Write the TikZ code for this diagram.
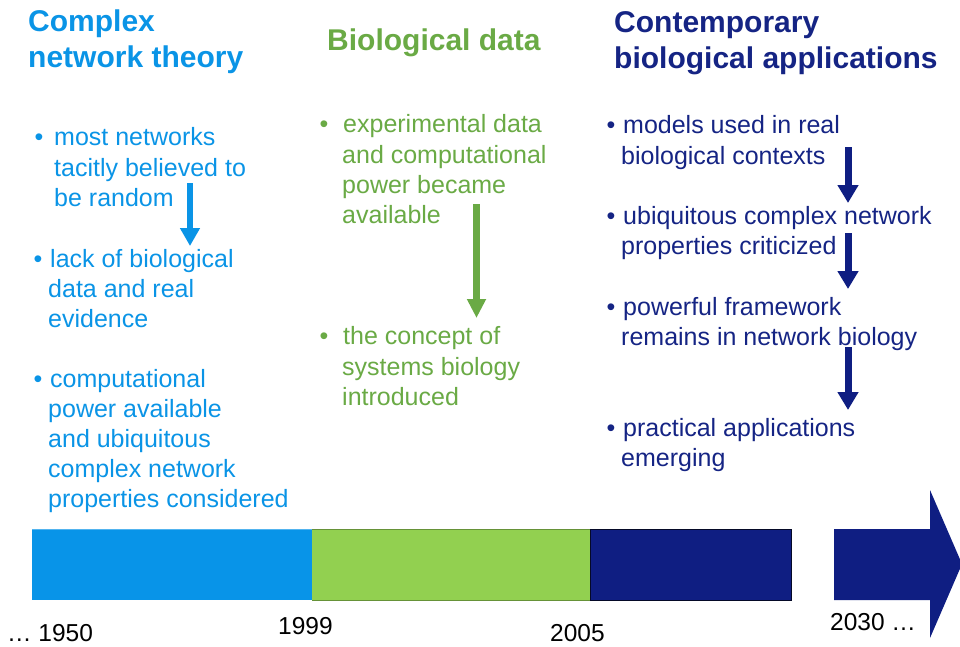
\documentclass[tikz,border=0pt]{standalone}
\usepackage{fontspec}
\setmainfont{Liberation Sans}
\usetikzlibrary{arrows.meta}
\definecolor{cblue}{HTML}{0A94E6}
\definecolor{bblue}{HTML}{0894E8}
\definecolor{cgreen}{HTML}{6AAA45}
\definecolor{bgreen}{HTML}{92D050}
\definecolor{cnavy}{HTML}{152484}
\definecolor{bnavy}{HTML}{0F1E82}
\tikzset{
  txt/.style={anchor=base west, inner sep=0pt, font=\fontsize{25}{30}\selectfont},
  bul/.style={anchor=base, inner sep=0pt, font=\fontsize{25}{30}\selectfont},
  ttl/.style={anchor=base west, inner sep=0pt, font=\fontsize{30}{37}\selectfont\bfseries},
  yr/.style={anchor=base west, inner sep=0pt, font=\fontsize{24.5}{30}\selectfont, text=black},
}
\begin{document}
\begin{tikzpicture}[x=1pt,y=-1pt]
\useasboundingbox (0,0) rectangle (960,646);
\clip (0,0) rectangle (960,646);
% ---- column 1
\begin{scope}[every node/.append style={text=cblue}]
\node[ttl] (t1a) at (28,31) {Complex};
\node[ttl] (t1b) at (28,67) {network theory};
\node[bul] (b11) at (39,145) {•};
\node[txt] (l11a) at (54,145) {most networks};
\node[txt] (l11b) at (54,176) {tacitly believed to};
\node[txt] (l11c) at (54,206) {be random};
\node[bul] (b12) at (38,267) {•};
\node[txt] (l12a) at (50,267) {lack of biological};
\node[txt] (l12b) at (48,297) {data and real};
\node[txt] (l12c) at (48,327) {evidence};
\node[bul] (b13) at (38,387) {•};
\node[txt] (l13a) at (50,387) {computational};
\node[txt] (l13b) at (48,417) {power available};
\node[txt] (l13c) at (48,447) {and ubiquitous};
\node[txt] (l13d) at (48,477) {complex network};
\node[txt] (l13e) at (48,507) {properties considered};
\end{scope}
\coordinate (a1s) at (190,183);
\coordinate (a1e) at (190,246);
\draw[cblue, line width=6pt, -{Triangle[width=19pt,length=18pt]}] (a1s) -- (a1e);
% ---- column 2
\begin{scope}[every node/.append style={text=cgreen}]
\node[ttl] (t2) at (327,50) {Biological data};
\node[bul] (b21) at (324,132) {•};
\node[txt] (l21a) at (343,132) {experimental data};
\node[txt] (l21b) at (342,163) {and computational};
\node[txt] (l21c) at (342,193) {power became};
\node[txt] (l21d) at (342,223) {available};
\node[bul] (b22) at (324,344) {•};
\node[txt] (l22a) at (343,344) {the concept of};
\node[txt] (l22b) at (342,375) {systems biology};
\node[txt] (l22c) at (342,405) {introduced};
\end{scope}
\coordinate (a2s) at (476.5,204);
\coordinate (a2e) at (476.5,318);
\draw[cgreen, line width=7pt, -{Triangle[width=18pt,length=19pt]}] (a2s) -- (a2e);
% ---- column 3
\begin{scope}[every node/.append style={text=cnavy}]
\node[ttl] (t3a) at (614,32) {Contemporary};
\node[ttl] (t3b) at (614,68) {biological applications};
\node[bul] (b31) at (611,133) {•};
\node[txt] (l31a) at (623,133) {models used in real};
\node[txt] (l31b) at (621,164) {biological contexts};
\node[bul] (b32) at (611,224) {•};
\node[txt] (l32a) at (623,224) {ubiquitous complex network};
\node[txt] (l32b) at (621,254) {properties criticized};
\node[bul] (b33) at (611,315) {•};
\node[txt] (l33a) at (623,315) {powerful framework};
\node[txt] (l33b) at (621,345) {remains in network biology};
\node[bul] (b34) at (611,436) {•};
\node[txt] (l34a) at (623,436) {practical applications};
\node[txt] (l34b) at (621,466) {emerging};
\end{scope}
\coordinate (a3s) at (848,147);
\coordinate (a3e) at (848,203);
\coordinate (a4s) at (848,233);
\coordinate (a4e) at (848,289);
\coordinate (a5s) at (848,347);
\coordinate (a5e) at (848,410);
\draw[bnavy, line width=7pt, -{Triangle[width=20pt,length=18pt]}] (a3s) -- (a3e);
\draw[bnavy, line width=7pt, -{Triangle[width=20pt,length=18pt]}] (a4s) -- (a4e);
\draw[bnavy, line width=7pt, -{Triangle[width=20pt,length=18pt]}] (a5s) -- (a5e);
% ---- timeline bar
\fill[bblue] (32,529) rectangle (312,600);
\fill[bgreen] (312,529) rectangle (590,600);
\fill[bnavy] (590,529) rectangle (791,600);
\draw[bblue!70!white, line width=0.6pt] (32,529) -- (312,529);
\draw[bgreen!70!black, line width=0.6pt] (312,529) -- (590,529) (312,600) -- (590,600);
\draw[black!70!bnavy, line width=0.6pt] (590,529) rectangle (791,600);
\fill[bnavy] (834,529) -- (930,529) -- (930,490) -- (962,564) -- (930,638) -- (930,600) -- (834,600) -- cycle;
% ---- years
\node[yr] (y1) at (7,641) {… 1950};
\node[yr] (y2) at (278,634) {1999};
\node[yr] (y3) at (550,641) {2005};
\node[yr] (y4) at (830,630) {2030 …};
\end{tikzpicture}
\end{document}
